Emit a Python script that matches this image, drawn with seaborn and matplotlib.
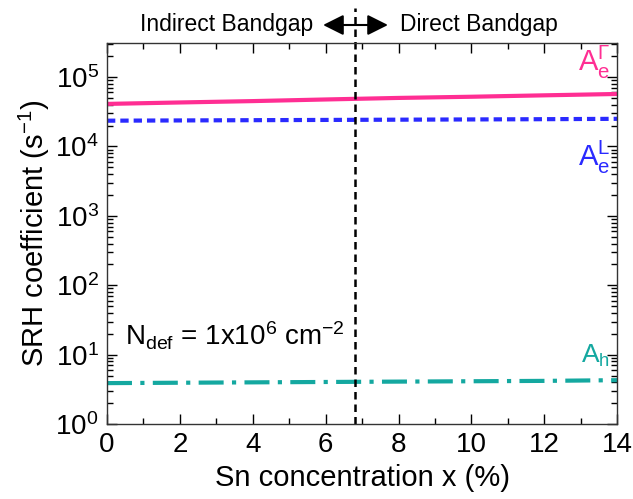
import numpy as np
import pandas as pd
import matplotlib
matplotlib.use("Agg")
import matplotlib.pyplot as plt
import seaborn as sns

# Sn concentration (%) and SRH coefficients (s^-1)
sn_conc = [0, 2, 4, 6, 8, 10, 12, 14]
a_e_gamma = [4.1e4, 4.3e4, 4.5e4, 4.75e4, 5.0e4, 5.2e4, 5.45e4, 5.7e4]
a_e_l = [2.35e4, 2.37e4, 2.39e4, 2.41e4, 2.43e4, 2.45e4, 2.47e4, 2.5e4]
a_h = [3.9, 3.95, 4.0, 4.05, 4.1, 4.15, 4.2, 4.3]
x_transition = 6.8

sns.set_theme(style="ticks")
plt.rcParams["font.family"] = ["Liberation Sans", "DejaVu Sans"]
plt.rcParams["mathtext.fontset"] = "custom"
plt.rcParams["mathtext.rm"] = "Liberation Sans"
plt.rcParams["mathtext.it"] = "Liberation Sans"
plt.rcParams["mathtext.bf"] = "Liberation Sans:bold"
plt.rcParams["text.color"] = "black"
plt.rcParams["axes.labelcolor"] = "black"
plt.rcParams["xtick.color"] = "black"
plt.rcParams["ytick.color"] = "black"

fig = plt.figure(figsize=(6.33, 4.99), dpi=100)
ax = fig.add_axes([0.169, 0.150, 0.806, 0.764])

df = pd.DataFrame({
    "x": sn_conc * 3,
    "y": a_e_gamma + a_e_l + a_h,
    "series": ["g"] * 8 + ["l"] * 8 + ["h"] * 8,
})
colors = {"g": "#ff2e93", "l": "#2a2aff", "h": "#14a8a0"}
dash_patterns = {"g": None, "l": (2.0, 1.2), "h": (6, 2, 1, 2)}

for key in ["g", "l", "h"]:
    sub = df[df.series == key]
    sns.lineplot(data=sub, x="x", y="y", ax=ax, color=colors[key],
                 linewidth=3, legend=False)
    if dash_patterns[key] is not None:
        ax.lines[-1].set_dashes(dash_patterns[key])

ax.set_yscale("log")
ax.set_xlim(0, 14)
ax.set_ylim(1, 3.1e5)
ax.set_xticks([0, 2, 4, 6, 8, 10, 12, 14])
ax.set_xticks(np.arange(1, 14, 2), minor=True)
ax.yaxis.set_minor_locator(matplotlib.ticker.LogLocator(base=10, subs=np.arange(2, 10), numticks=20))
ax.yaxis.set_minor_formatter(matplotlib.ticker.NullFormatter())
ax.tick_params(which="both", direction="in", top=True, right=True)
ax.tick_params(which="major", length=7, width=1, labelsize=20, pad=6)
ax.tick_params(which="minor", length=4, width=1)
for s in ax.spines.values():
    s.set_linewidth(1)
    s.set_color("#333333")

ax.set_xlabel("Sn concentration x (%)", fontsize=21, labelpad=4)
ax.set_ylabel("SRH coefficient (s$^{-1}$)", fontsize=21, labelpad=2)

# transition line extending above the axes
ax.plot([x_transition, x_transition], [0, 1.092], color="black", lw=1.8,
        ls=(0, (3, 2)), transform=ax.get_xaxis_transform(), clip_on=False)
ax.annotate("", xy=(5.93, 1.047), xytext=(7.71, 1.047),
            xycoords=ax.get_xaxis_transform(), textcoords=ax.get_xaxis_transform(),
            arrowprops=dict(arrowstyle="<|-|>,head_length=0.5,head_width=0.25",
                            color="black", lw=1.5, mutation_scale=25,
                            shrinkA=0, shrinkB=0))
ax.text(5.65, 1.047, "Indirect Bandgap", transform=ax.get_xaxis_transform(),
        ha="right", va="center", fontsize=16.5)
ax.text(8.04, 1.047, "Direct Bandgap", transform=ax.get_xaxis_transform(),
        ha="left", va="center", fontsize=16.5)

ax.text(13.8, 1.6e5, r"$\mathregular{A_e^{\Gamma}}$", color=colors["g"],
        fontsize=21, ha="right", va="center")
ax.text(13.8, 7.0e3, r"$\mathregular{A_e^{L}}$", color=colors["l"],
        fontsize=21, ha="right", va="center")
ax.text(13.8, 9.5, r"$\mathregular{A_h}$", color=colors["h"],
        fontsize=19, ha="right", va="center")
ax.text(0.5, 19, r"N$_{\mathregular{def}}$ = 1x10$^{6}$ cm$^{-2}$",
        fontsize=20, ha="left", va="center")

fig.savefig("out.png", dpi=100)
